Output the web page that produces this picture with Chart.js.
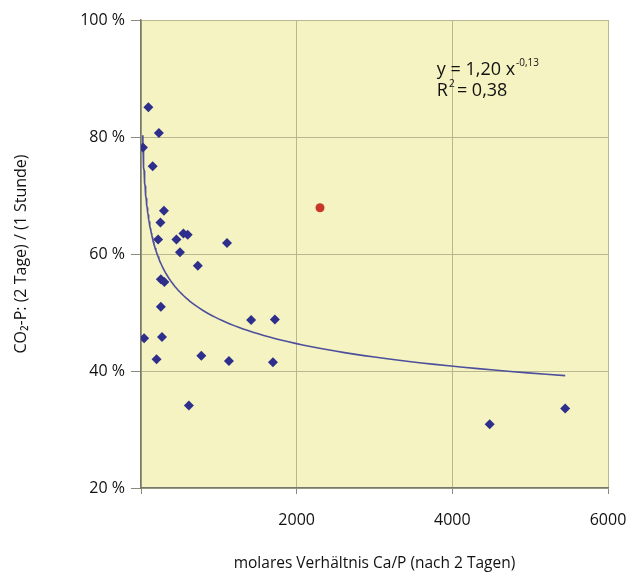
<!DOCTYPE html>
<html>
<head>
<meta charset="utf-8">
<script src="https://cdn.jsdelivr.net/npm/chart.js@4"></script>
<style>
  html, body { margin: 0; padding: 0; background: #fff; }
  #wrap { width: 626px; height: 577px; }
</style>
</head>
<body>
<div id="wrap"><canvas id="scatterChart" width="626" height="577"></canvas></div>
<script>
// Messwerte: molares Ca/P-Verhältnis und CO2-P-Quotient in %
const caP = [95, 230, 25, 150, 295, 250, 220, 455, 545, 600, 500, 1105, 730, 255, 300,
  255, 40, 270, 200, 775, 1130, 1695, 1415, 1720, 615, 4480, 5450];
const co2P = [85.1, 80.7, 78.2, 75.0, 67.4, 65.4, 62.5, 62.5, 63.5, 63.3, 60.3, 61.9, 58.0, 55.7, 55.2,
  51.0, 45.6, 45.8, 42.0, 42.6, 41.7, 41.5, 48.7, 48.8, 34.1, 30.9, 33.6];

// Ausreißer (rot)
const outlierX = [2300];
const outlierY = [67.9];

// Potenzfunktion y = a * x^b
const fitA = 1.20;
const fitB = -0.13;
const fitRange = [22, 5450];

const xTicks = [0, 2000, 4000, 6000];
const yTicks = [20, 40, 60, 80, 100];

const toPoints = (xs, ys) => xs.map((x, i) => ({ x: x, y: ys[i] }));

const fitPoints = [];
for (let i = 0; i <= 120; i++) {
  const x = fitRange[0] * Math.pow(fitRange[1] / fitRange[0], i / 120);
  fitPoints.push({ x: x, y: fitA * Math.pow(x, fitB) * 100 });
}

const FONT = "'Open Sans', sans-serif";
const TEXT = '#111111';

const plotBackground = {
  id: 'plotBackground',
  beforeDraw(chart) {
    const { ctx, chartArea: a } = chart;
    ctx.save();
    ctx.fillStyle = '#f5f3c1';
    ctx.fillRect(a.left, a.top, a.right - a.left, a.bottom - a.top);
    ctx.restore();
  }
};

// Formel und Bestimmtheitsmaß oben rechts
const fitLabel = {
  id: 'fitLabel',
  afterDraw(chart) {
    const { ctx, scales } = chart;
    const x = scales.x.getPixelForValue(3800);
    const y1 = scales.y.getPixelForValue(90.6);
    const y2 = scales.y.getPixelForValue(87.0);
    ctx.save();
    ctx.fillStyle = TEXT;
    ctx.textBaseline = 'alphabetic';
    ctx.font = '18px ' + FONT;
    const main = 'y = 1,20 x';
    ctx.fillText(main, x, y1);
    const w = ctx.measureText(main).width;
    ctx.font = '10px ' + FONT;
    ctx.fillText('-0,13', x + w + 1, y1 - 9);
    ctx.font = '18px ' + FONT;
    ctx.fillText('R', x, y2);
    const wr = ctx.measureText('R').width;
    ctx.font = '10px ' + FONT;
    ctx.fillText('2', x + wr + 1, y2 - 9);
    ctx.font = '18px ' + FONT;
    ctx.fillText('= 0,38', x + wr + 9, y2);
    ctx.restore();
  }
};

new Chart(document.getElementById('scatterChart'), {
  type: 'scatter',
  data: {
    datasets: [{
      label: 'Messwerte',
      data: toPoints(caP, co2P),
      pointStyle: 'rectRot',
      pointRadius: 5,
      backgroundColor: '#2e2f8c',
      borderColor: '#2e2f8c',
      borderWidth: 0
    }, {
      label: 'Ausreißer',
      data: toPoints(outlierX, outlierY),
      pointStyle: 'circle',
      pointRadius: 4.5,
      backgroundColor: '#c8362a',
      borderColor: '#c8362a',
      borderWidth: 0
    }, {
      label: 'Trend',
      data: fitPoints,
      showLine: true,
      pointRadius: 0,
      borderColor: '#4d4f9c',
      borderWidth: 1.6,
      fill: false
    }]
  },
  options: {
    responsive: false,
    animation: false,
    layout: { padding: { left: 0, right: 0, top: 20, bottom: 0 } },
    plugins: {
      legend: { display: false },
      tooltip: { enabled: false }
    },
    scales: {
      x: {
        type: 'linear',
        min: 0,
        max: 6000,
        afterBuildTicks: (scale) => { scale.ticks = xTicks.map(v => ({ value: v })); },
        afterFit: (scale) => {
          scale.height = 89;
          // nur halbe Breite der Beschriftung "6000" rechts freihalten
          scale.paddingRight = 18;
        },
        grid: { color: '#b9b692', tickColor: '#8a8a7a', tickLength: 6, lineWidth: 1 },
        border: { color: '#77776a', width: 1.5 },
        ticks: {
          padding: 17,
          color: TEXT,
          font: { family: FONT, size: 16 },
          callback: (v) => v === 0 ? '' : String(v)
        },
        title: {
          display: true,
          text: 'molares Verhältnis Ca/P (nach 2 Tagen)',
          color: TEXT,
          font: { family: FONT, size: 15.5 },
          padding: { top: 0, bottom: 4 }
        }
      },
      y: {
        type: 'linear',
        min: 20,
        max: 100,
        afterBuildTicks: (scale) => { scale.ticks = yTicks.map(v => ({ value: v })); },
        afterFit: (scale) => { scale.width = 141; },
        grid: { color: '#b9b692', tickColor: '#8a8a7a', tickLength: 10, lineWidth: 1 },
        border: { color: '#77776a', width: 1.5 },
        ticks: {
          padding: 6,
          color: TEXT,
          font: { family: FONT, size: 16 },
          callback: (v) => v + ' %'
        },
        title: {
          display: true,
          text: 'CO₂-P: (2 Tage) / (1 Stunde)',
          color: TEXT,
          font: { family: FONT, size: 16 },
          padding: { top: 12, bottom: 0 }
        }
      }
    }
  },
  plugins: [plotBackground, fitLabel]
});
</script>
</body>
</html>
